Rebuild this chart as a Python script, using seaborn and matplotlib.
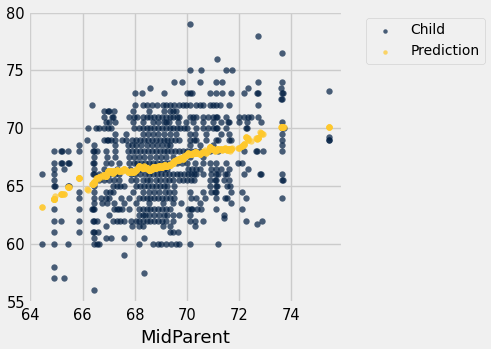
import numpy as np
import pandas as pd
import matplotlib
matplotlib.use("Agg")
import matplotlib.pyplot as plt
import seaborn as sns

# Child heights (rows) and the MidParent values observed at each height
child_heights = [56, 57, 57.5, 58, 59, 60, 60.5, 61, 61.5, 61.7, 62, 62.2, 62.5, 63, 63.5,
                 64, 64.5, 65, 65.5, 66, 66.5, 67, 67.5, 68, 68.5, 69, 69.2, 69.5, 70,
                 70.5, 71, 71.5, 72, 72.5, 73, 73.2, 73.5, 74, 75, 76, 76.5, 78, 79]

midparent_rows = [
    [66.42],
    [64.92, 65.3],
    [68.37],
    [64.92],
    [67.6],
    [64.44, 64.92, 65.45, 66.45, 66.55, 66.63, 68.15, 68.69, 68.88, 69.0, 69.2, 69.39, 69.58, 69.71, 70.1, 71.19],
    [66.42, 66.89, 67.08, 67.6, 68.37],
    [64.92, 65.85, 66.4, 66.45, 66.6, 69.33, 69.46, 69.65],
    [66.89, 67.9, 68.17, 68.3, 69.07, 69.33, 70.3],
    [72.7],
    [64.92, 65.18, 65.85, 66.4, 66.45, 66.55, 67.15, 67.3, 67.45, 67.6, 67.85, 68.04, 68.17, 68.3, 68.45,
     68.6, 68.75, 68.9, 69.05, 69.2, 69.46, 70.1, 70.3, 70.6, 72.27, 72.88],
    [71.4],
    [67.02, 68.17, 68.3, 68.4, 68.56, 68.75, 68.94, 69.1, 69.25, 69.45, 69.71, 70.1, 71.4],
    [64.92, 65.85, 66.34, 66.4, 66.45, 67.2, 67.3, 67.4, 67.5, 67.79, 68.17, 68.3, 68.45, 68.6, 68.75,
     68.9, 69.05, 69.2, 69.33, 70.05, 70.15, 70.2, 70.4, 70.55, 71.12, 72.1],
    [66.42, 66.76, 66.95, 67.21, 67.6, 68.04, 68.56, 69.07, 69.46, 69.78, 70.48, 71.7],
    [65.85, 66.42, 66.69, 66.89, 67.02, 67.47, 67.79, 68.17, 68.3, 68.45, 68.6, 68.75, 68.9, 69.05, 69.2,
     69.35, 69.5, 70.17, 70.36, 70.68, 71.1, 71.45, 71.55, 72.27, 73.66],
    [65.85, 66.42, 66.89, 67.05, 67.15, 67.92, 68.3, 68.56, 68.75, 68.94, 69.15, 69.3, 69.52, 70.1, 70.6,
     70.93, 71.08, 71.12, 71.7, 72.1],
    [64.92, 64.95, 65.43, 65.47, 66.42, 67.15, 67.3, 67.45, 67.6, 68.04, 68.2, 68.35, 68.5, 68.65, 68.8,
     68.95, 69.1, 69.25, 69.5, 70.87, 71.1, 71.15, 71.55, 71.65],
    [64.92, 66.63, 66.8, 67.0, 67.2, 67.4, 67.85, 68.04, 68.3, 68.45, 68.6, 68.8, 68.95, 69.15, 69.3,
     69.45, 69.71, 69.85, 70.0, 70.15, 70.25, 70.87, 71.06, 71.12, 71.4, 71.6, 73.64, 73.68],
    [64.44, 64.92, 66.4, 66.45, 66.63, 66.85, 67.05, 67.25, 67.4, 67.85, 68.0, 68.2, 68.4, 68.55, 68.7,
     68.85, 69.0, 69.15, 69.3, 69.45, 69.6, 69.75, 69.9, 70.05, 70.15, 70.25, 70.35, 70.6, 70.93, 71.12,
     71.2, 71.45, 71.55, 72.2, 72.78, 72.82, 73.66],
    [64.92, 65.3, 66.42, 66.8, 67.3, 67.8, 68.2, 68.6, 68.94, 69.1, 69.25, 70.05, 70.2, 70.35, 70.48,
     70.93, 71.1, 71.3, 71.6, 72.32],
    [64.92, 65.16, 65.2, 65.43, 65.47, 66.4, 66.45, 66.9, 67.08, 67.4, 67.79, 67.95, 68.1, 68.25, 68.4,
     68.55, 68.7, 68.85, 69.0, 69.15, 69.3, 69.45, 69.6, 69.8, 70.0, 70.3, 70.6, 70.9, 71.12, 71.5,
     71.95, 72.1],
    [66.42, 66.95, 67.25, 67.79, 67.95, 68.15, 68.35, 68.6, 68.8, 69.0, 69.2, 69.46, 70.1, 70.6],
    [64.92, 65.16, 65.2, 65.45, 65.85, 66.4, 66.45, 66.55, 66.89, 67.25, 67.72, 67.9, 68.05, 68.2, 68.35,
     68.5, 68.65, 68.8, 68.95, 69.1, 69.25, 69.4, 69.55, 69.7, 69.85, 70.0, 70.15, 70.3, 70.48, 70.87,
     71.19, 72.2, 72.65, 72.69, 72.9, 73.66],
    [65.85, 66.42, 67.25, 67.72, 67.9, 68.05, 68.25, 68.45, 68.65, 68.85, 69.05, 69.25, 69.33, 70.1, 70.48,
     71.0, 73.66],
    [66.15, 66.8, 66.93, 66.97, 67.1, 67.25, 67.5, 67.65, 67.9, 68.04, 68.2, 68.35, 68.5, 68.65, 68.8,
     68.95, 69.1, 69.25, 69.4, 69.55, 69.7, 70.1, 70.25, 70.36, 70.74, 71.12, 71.17, 71.6, 71.7, 73.66,
     75.43, 75.43],
    [75.43],
    [67.25, 67.65, 68.3, 68.5, 68.7, 68.9, 69.1, 69.33, 69.58, 70.1, 70.3, 70.74, 71.3, 71.6, 73.66],
    [66.22, 66.53, 66.63, 66.8, 66.99, 67.1, 67.98, 68.15, 68.3, 68.45, 68.6, 68.75, 68.9, 69.05, 69.2,
     69.33, 69.45, 69.6, 69.75, 69.9, 70.0, 70.36, 70.6, 70.8, 71.0, 71.1, 71.14, 71.5, 72.25, 72.29,
     73.66, 73.7],
    [66.9, 67.0, 67.25, 67.92, 68.3, 68.7, 68.9, 69.1, 69.2, 69.3, 69.65, 69.97, 70.23, 70.6, 71.0,
     71.3, 71.58, 71.62, 72.0, 72.3, 72.85, 73.66],
    [66.8, 67.13, 67.17, 67.79, 67.98, 68.1, 68.3, 68.45, 68.6, 68.75, 68.9, 69.05, 69.2, 69.33, 69.45,
     69.6, 69.7, 70.1, 70.23, 70.36, 70.6, 70.8, 71.0, 71.1, 71.14, 71.5, 72.0, 72.2, 72.35, 72.47, 72.72],
    [66.83, 66.98, 67.02, 67.2, 67.92, 68.56, 69.13, 69.33, 69.46, 69.58],
    [66.34, 68.0, 68.3, 68.45, 68.65, 68.85, 69.07, 69.2, 69.33, 69.52, 69.71, 69.85, 69.97, 70.1, 70.36,
     70.48, 70.6, 70.87, 71.0, 71.12, 71.25, 71.6, 72.72],
    [73.62, 73.66],
    [68.0, 68.26, 69.13, 70.0, 70.1, 70.2, 70.9, 71.12, 71.34, 71.7, 72.18, 72.68, 72.72, 73.64, 73.68],
    [75.43],
    [68.58, 72.34, 73.6],
    [69.52, 69.8, 70.5, 71.12, 71.34, 72.72, 73.66],
    [70.1, 70.53, 71.49, 71.72],
    [71.15],
    [73.66],
    [72.72],
    [70.1],
]

x_ticks = [64, 66, 68, 70, 72, 74]
y_ticks = [55, 60, 65, 70, 75, 80]

mid, child = [], []
for h, row in zip(child_heights, midparent_rows):
    for m in row:
        mid.append(m)
        child.append(h)
df = pd.DataFrame({"MidParent": mid, "Child": child})
mp = df["MidParent"].to_numpy()
ch = df["Child"].to_numpy()
# Prediction: average child height of families whose MidParent is within 0.5 inch
df["Prediction"] = [ch[(mp >= m - 0.5) & (mp < m + 0.5)].mean() for m in mp]

plt.style.use("fivethirtyeight")
fig = plt.figure(figsize=(4.91, 3.49), dpi=100)
ax = fig.add_axes([0.0562, 0.131, 0.6424, 0.838])

sns.scatterplot(data=df, x="MidParent", y="Child", color="#001E42", alpha=0.7,
                s=21, linewidth=0, label="Child", ax=ax)
sns.scatterplot(data=df, x="MidParent", y="Prediction", color="#FFC82C", alpha=0.7,
                s=21, linewidth=0, label="Prediction", ax=ax)

ax.set_xticks(x_ticks)
ax.set_yticks(y_ticks)
ax.set_xlabel("MidParent", fontsize=13)
ax.set_ylabel("")
ax.tick_params(labelsize=10.5)
ax.tick_params(axis="y", pad=2)
ax.legend(loc="upper left", bbox_to_anchor=(1.05, 1), fontsize=10, markerscale=0.7,
          frameon=True)

fig.savefig("out.png", dpi=100, facecolor="#f0f0f0")
